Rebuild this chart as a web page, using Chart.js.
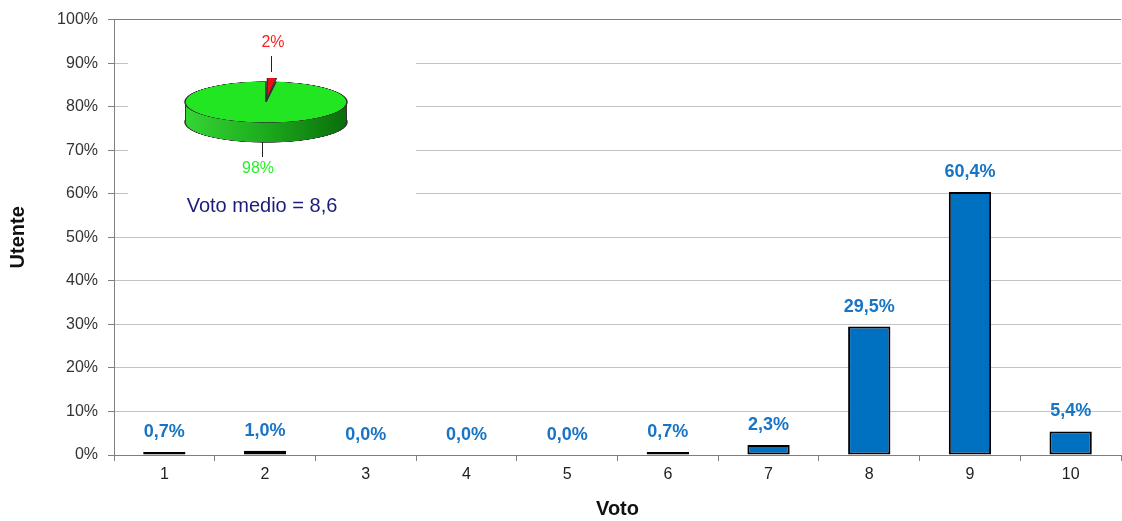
<!DOCTYPE html>
<html>
<head>
<meta charset="utf-8">
<script src="https://cdn.jsdelivr.net/npm/chart.js@4.4.0/dist/chart.umd.min.js"></script>
<style>
	body { margin: 0; background: #fff; }
	#wrap { position: relative; width: 1122px; height: 521px; font-family: "Liberation Sans", Arial, sans-serif; }
	#myChart { position: absolute; left: 0; top: 0; }
	.abs { position: absolute; }
	.pie { width: 240px; height: 240px; left: 146px; transform: scaleY(0.253); transform-origin: 50% 50%; }
	#pieBottom { top: 2px; }
	#pieTop { top: -18px; }
	#pieSide { left: 185px; top: 101px; width: 162px; height: 21px; box-sizing: border-box;
		background: linear-gradient(to right, #35d435, #1fb01f 45%, #0a6e0a);
		border-left: 1px solid #333; border-right: 1px solid #333; }
	.lead { background: #222; width: 1px; }
	.lbl { white-space: nowrap; transform: translateX(-50%); }
</style>
</head>
<body>
<div id="wrap">
	<canvas id="myChart" width="1122" height="521"></canvas>
	<canvas id="pieBottom" class="abs pie" width="240" height="240"></canvas>
	<div id="pieSide" class="abs"></div>
	<canvas id="pieTop" class="abs pie" width="240" height="240"></canvas>
	<div class="abs lead" style="left:271px; top:56px; height:16px;"></div>
	<div class="abs lead" style="left:262px; top:142px; height:15px;"></div>
	<div id="lblRed" class="abs lbl" style="left:273px; top:33px; font-size:16px; color:#ff1f1f;"></div>
	<div id="lblGreen" class="abs lbl" style="left:258px; top:159px; font-size:16px; color:#2aee2a;"></div>
	<div id="lblMean" class="abs lbl" style="left:262px; top:194px; font-size:20px; color:#1c1c78;"></div>
</div>
<script>

var categories = ["1", "2", "3", "4", "5", "6", "7", "8", "9", "10"];
var percentages = [0.7, 1.0, 0.0, 0.0, 0.0, 0.7, 2.3, 29.5, 60.4, 5.4];

var pieLabels = ["2%", "98%"];
var pieValues = [2, 98];
var meanText = "Voto medio = 8,6";

var fontFamily = '"Liberation Sans", Arial, sans-serif';

function fmt(v) {
	return v.toFixed(1).replace(".", ",") + "%";
}

// white panel behind the small pie, hides part of the grid
var insetPanel = {
	id: "insetPanel",
	beforeDatasetsDraw: function(chart) {
		var c = chart.ctx;
		c.save();
		c.fillStyle = "#fff";
		c.fillRect(128, 30, 288, 196);
		c.restore();
	}
};

var valueLabels = {
	id: "valueLabels",
	afterDatasetsDraw: function(chart) {
		var c = chart.ctx;
		var meta = chart.getDatasetMeta(0);
		c.save();
		c.font = "bold 18px " + fontFamily;
		c.fillStyle = "#1874c4";
		c.textAlign = "center";
		c.textBaseline = "middle";
		meta.data.forEach(function(bar, i) {
			c.fillText(fmt(percentages[i]), bar.x, bar.y - 20);
		});
		c.restore();
	}
};

var ctx = document.getElementById("myChart");

var myBarChart = new Chart(ctx, {
	type: "bar",
	data: {
		labels: categories,
		datasets: [
			{
				data: percentages,
				backgroundColor: "#0070c0",
				borderColor: "#000",
				borderWidth: 2,
				borderSkipped: false,
				categoryPercentage: 1,
				barPercentage: 0.42
			}
		]
	},
	options: {
		responsive: false,
		animation: false,
		events: [],
		layout: { padding: { top: 18, right: 1, left: 0, bottom: 0 } },
		plugins: { legend: { display: false }, tooltip: { enabled: false } },
		scales: {
			x: {
				afterFit: function(s) { s.height = 66; },
				grid: { display: true, drawOnChartArea: false, offset: true, tickLength: 6, tickColor: "#7f7f7f" },
				border: { color: "#7f7f7f", width: 1 },
				ticks: { color: "#222", font: { size: 16, family: fontFamily }, padding: 4 },
				title: { display: true, text: "Voto", color: "#111", font: { size: 20, weight: "bold", family: fontFamily }, padding: { top: 0, bottom: 0 } }
			},
			y: {
				min: 0,
				max: 100,
				afterFit: function(s) { s.width = 114; },
				grid: {
					color: function(c) { return c.tick && c.tick.value === 100 ? "#7f7f7f" : "#c4c4c4"; },
					tickLength: 6,
					tickColor: "#7f7f7f"
				},
				border: { color: "#7f7f7f", width: 1 },
				ticks: {
					stepSize: 10,
					color: "#333",
					font: { size: 16, family: fontFamily },
					padding: 10,
					callback: function(v) { return v + "%"; }
				},
				title: { display: true, text: "Utente", color: "#111", font: { size: 20, weight: "bold", family: fontFamily }, padding: { top: 6, bottom: 0 } }
			}
		}
	},
	plugins: [insetPanel, valueLabels]
});

// small 3D-looking pie: two flattened pies with a side band between them
function pieOptions() {
	return {
		responsive: false,
		animation: false,
		events: [],
		layout: { padding: 0 },
		plugins: { legend: { display: false }, tooltip: { enabled: false } }
	};
}

var bottomColor = function(c) {
	if (c.dataIndex === 0) return "#9a0000";
	var area = c.chart.chartArea;
	if (!area) return "#1a9a1a";
	var g = c.chart.ctx.createLinearGradient(area.left + 39, 0, area.right - 39, 0);
	g.addColorStop(0, "#35d435");
	g.addColorStop(0.45, "#1fb01f");
	g.addColorStop(1, "#0a6e0a");
	return g;
};

new Chart(document.getElementById("pieBottom"), {
	type: "pie",
	data: {
		labels: pieLabels,
		datasets: [{
			data: pieValues,
			backgroundColor: bottomColor,
			borderColor: "#333",
			borderWidth: 1.5,
			radius: 81,
			offset: [30, 0]
		}]
	},
	options: pieOptions()
});

new Chart(document.getElementById("pieTop"), {
	type: "pie",
	data: {
		labels: pieLabels,
		datasets: [{
			data: pieValues,
			backgroundColor: ["#ee1010", "#22e622"],
			borderColor: "#333",
			borderWidth: 1.5,
			radius: 81,
			offset: [30, 0]
		}]
	},
	options: pieOptions()
});

document.getElementById("lblRed").textContent = pieLabels[0];
document.getElementById("lblGreen").textContent = pieLabels[1];
document.getElementById("lblMean").textContent = meanText;

</script>
</body>
</html>
